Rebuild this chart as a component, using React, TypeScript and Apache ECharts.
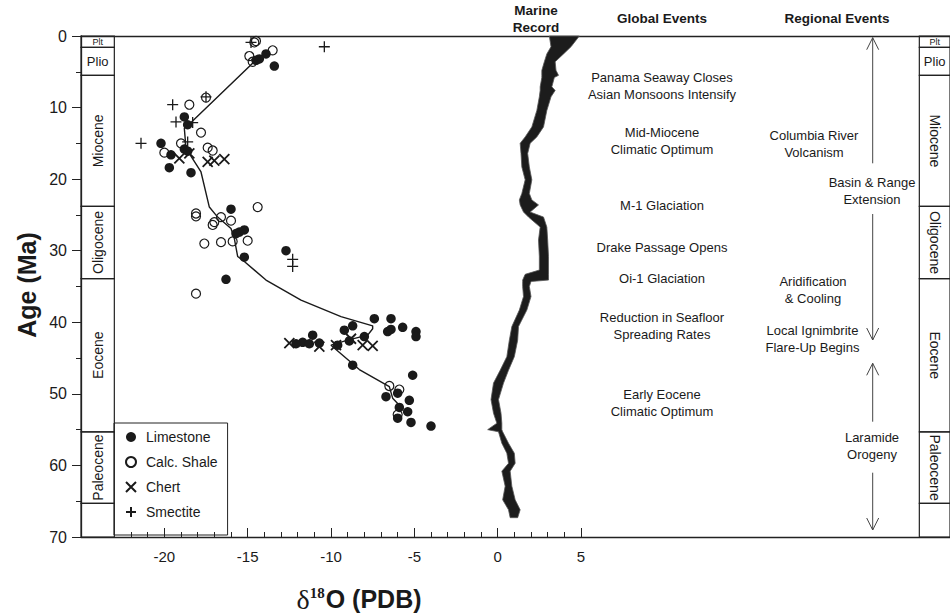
import { useEffect, useRef } from 'react';
import * as echarts from 'echarts';

const FONT = '"Liberation Sans", Arial, Helvetica, sans-serif';
const SERIF = '"Liberation Serif", "Times New Roman", serif';
const INK = '#1a1a1a';

// Axis setup
const X_MIN = -25;
const X_MAX = 27.14;
const COL_LEFT_EDGE = -23;
const COL_RIGHT_EDGE = 25.3;
const AGE_MIN = 0;
const AGE_MAX = 70;
const xMajorTicks = [-20, -15, -10, -5, 0, 5];
const xMinorTicks = [-22, -21, -19, -18, -17, -16, -14, -13, -12, -11, -9, -8, -7, -6, -4, -3, -2, -1, 1, 2, 3, 4];
const yMajorTicks = [0, 10, 20, 30, 40, 50, 60, 70];
const yMinorTicks = [5, 15, 25, 35, 45, 55, 65];

// Geological epochs (Ma)
const epochNames = ['Plt', 'Plio', 'Miocene', 'Oligocene', 'Eocene', 'Paleocene', ''];
const epochTop = [0, 1.6, 5.5, 23.8, 33.9, 55.3, 65.3];
const epochBase = [1.6, 5.5, 23.8, 33.9, 55.3, 65.3, 70];

// δ18O samples [δ18O, age Ma]
const limestone: number[][] = [
  [-13.4, 4.2], [-13.9, 2.5], [-14.3, 3.2], [-14.5, 3.4],
  [-18.8, 11.3], [-18.6, 12.4], [-20.2, 15.0], [-19.6, 16.6], [-19.7, 18.4], [-18.4, 19.1],
  [-18.8, 15.8], [-18.6, 16.1],
  [-16.0, 24.2],
  [-15.5, 27.4], [-15.2, 27.1], [-15.7, 27.6], [-15.2, 30.9], [-12.7, 30.0], [-16.3, 34.0],
  [-7.4, 39.5], [-6.4, 39.5], [-5.7, 40.7], [-4.9, 41.3], [-4.9, 42.0], [-6.6, 41.3], [-6.4, 41.0],
  [-9.2, 41.1], [-8.7, 40.5], [-8.0, 42.0], [-8.9, 42.6], [-11.1, 41.8], [-11.7, 42.8], [-11.3, 43.0],
  [-10.7, 42.9], [-12.1, 43.0], [-9.6, 43.2], [-8.7, 46.0], [-5.1, 47.4], [-6.7, 50.4], [-6.0, 49.9],
  [-5.3, 50.9], [-5.9, 51.9], [-5.4, 52.5], [-6.0, 53.4], [-5.2, 54.0], [-4.0, 54.5],
];
const calcShale: number[][] = [
  [-14.5, 0.7], [-14.6, 0.9], [-13.5, 2.0], [-14.9, 2.8], [-14.7, 3.6], [-17.5, 8.6], [-18.5, 9.6],
  [-17.8, 13.5], [-19.0, 15.0], [-20.0, 16.3], [-17.4, 15.6], [-17.1, 16.0], [-18.1, 24.8], [-18.1, 25.2],
  [-14.4, 23.9], [-16.6, 25.3], [-17.1, 26.4], [-17.0, 26.0], [-16.0, 25.8], [-17.6, 29.0], [-16.6, 28.8],
  [-15.9, 28.7], [-15.0, 28.6], [-18.1, 36.0], [-6.5, 48.9], [-5.9, 49.4], [-6.0, 52.9],
];
const chert: number[][] = [
  [-19.1, 17.1], [-18.5, 16.4], [-17.4, 17.6], [-17.0, 17.4], [-16.4, 17.2],
  [-12.5, 42.9], [-10.7, 43.4], [-9.7, 43.2], [-8.8, 42.3], [-8.1, 43.2], [-7.5, 43.3],
];
const smectite: number[][] = [
  [-14.8, 0.9], [-10.4, 1.5], [-17.5, 8.5], [-19.5, 9.6], [-19.3, 12.0], [-18.3, 12.1],
  [-21.4, 15.0], [-18.6, 14.8], [-12.3, 31.2], [-12.3, 32.2],
];
// Smoothed trend [δ18O, age]
const trendLine: number[][] = [
  [-14.3, 2.9], [-18.4, 12.1], [-18.8, 12.9], [-18.7, 15.7], [-17.8, 19.0], [-17.3, 23.9], [-16.8, 25.3],
  [-16.0, 26.9], [-15.8, 28.3], [-15.6, 30.8], [-15.2, 31.5], [-13.9, 34.1], [-11.8, 36.9], [-9.4, 39.2],
  [-7.5, 40.5], [-7.5, 40.9], [-7.8, 41.8], [-9.0, 42.5], [-10.0, 43.2], [-8.3, 46.6], [-6.5, 49.0],
  [-6.3, 50.6], [-5.9, 51.6],
];

// Marine benthic record band: age, left edge, right edge
const marineAge = [0, 1.5, 2.5, 3.6, 4.8, 5.5, 5.8, 7.1, 7.6, 8.5, 10.4, 12.7, 14.1, 15.0, 16.4, 18.3, 20.1, 22.0, 22.9, 23.6, 24.6, 25.3, 26.7, 28.5, 30.8, 32.7, 33.3, 34.1, 34.3, 35.0, 36.4, 38.3, 40.6, 42.5, 44.8, 46.7, 48.5, 50.8, 52.7, 54.1, 55.0, 55.3, 56.9, 58.3, 59.7, 60.8, 62.9, 64.8, 66.2, 67.3];
const marineLeft = [3.1, 3.2, 2.95, 2.8, 2.65, 2.65, 2.65, 2.55, 2.55, 2.5, 2.35, 2.05, 1.65, 1.35, 1.4, 1.45, 1.65, 1.45, 1.3, 1.35, 1.55, 1.85, 2.55, 2.45, 2.5, 2.5, 1.65, 1.5, 1.5, 1.5, 1.55, 1.3, 0.85, 0.7, 0.55, 0.15, -0.25, -0.4, -0.25, -0.05, -0.6, 0.05, 0.25, 0.55, 0.65, 0.25, 0.45, 0.3, 0.65, 0.75];
const marineRight = [4.9, 4.4, 3.95, 3.45, 3.5, 3.65, 3.4, 3.25, 3.45, 3.2, 2.95, 2.75, 2.35, 1.95, 1.8, 1.9, 2.05, 1.9, 2.05, 2.45, 1.95, 2.75, 2.95, 3.0, 3.05, 3.05, 3.05, 3.05, 2.0, 1.9, 2.0, 1.75, 1.25, 1.2, 1.0, 0.65, 0.35, 0.05, 0.2, 0.25, 0.25, 0.3, 0.65, 1.0, 1.05, 0.75, 0.85, 1.05, 1.35, 1.2];

const globalEvents = [
  'Panama Seaway Closes\nAsian Monsoons Intensify',
  'Mid-Miocene\nClimatic Optimum',
  'M-1 Glaciation',
  'Drake Passage Opens',
  'Oi-1 Glaciation',
  'Reduction in Seafloor\nSpreading Rates',
  'Early Eocene\nClimatic Optimum',
];
const regionalEvents = [
  'Columbia River\nVolcanism',
  'Basin & Range\nExtension',
  'Aridification\n& Cooling',
  'Local Ignimbrite\nFlare-Up Begins',
  'Laramide\nOrogeny',
];

function txt(text: string, x: number, y: number, size = 13, weight = 'normal', extra: any = {}) {
  return {
    type: 'text',
    x,
    y,
    silent: true,
    ...extra,
    style: {
      text,
      fontSize: size,
      fontFamily: FONT,
      fontWeight: weight,
      fill: INK,
      align: 'center',
      verticalAlign: 'middle',
      textAlign: 'center',
      textVerticalAlign: 'middle',
      lineHeight: 17,
    },
  };
}

function arrow(x: number, y1: number, y2: number, headTop: boolean) {
  const tipY = headTop ? y1 : y2;
  const d = headTop ? 12 : -12;
  return [
    { type: 'line', silent: true, shape: { x1: x, y1, x2: x, y2 }, style: { stroke: '#444', lineWidth: 1 } },
    {
      type: 'polyline',
      silent: true,
      shape: { points: [[x - 6, tipY + d], [x, tipY], [x + 6, tipY + d]] },
      style: { stroke: '#444', lineWidth: 1, fill: 'none' },
    },
  ];
}

export default function App() {
  const ref = useRef<HTMLDivElement>(null);
  useEffect(() => {
    if (!ref.current) return;
    const chart = echarts.init(ref.current, undefined, { renderer: 'svg' });

    const globalPos = [[662, 85.5], [662, 141.3], [662, 205.7], [662, 247], [662, 278], [662, 326], [662, 402.5]];
    const regionalPos = [[814, 144], [872, 190.5], [813, 290.3], [812.5, 339.3], [872, 445.5]];

    const graphics: any[] = [
      txt('Marine\nRecord', 536, 18.5, 13.5, 'bold'),
      txt('Global Events', 662, 18.5, 13.5, 'bold'),
      txt('Regional Events', 837, 18.5, 13.5, 'bold'),
      ...globalEvents.map((t, i) => txt(t, globalPos[i][0], globalPos[i][1])),
      ...regionalEvents.map((t, i) => txt(t, regionalPos[i][0], regionalPos[i][1])),
      ...arrow(872.7, 37.7, 163.3, true),
      ...arrow(872.7, 214, 340, false),
      ...arrow(872.7, 363.3, 421.7, true),
      ...arrow(872.7, 472.7, 530, false),
      txt('Age (Ma)', 27, 285, 25, 'bold', { rotation: Math.PI / 2 }),
      {
        type: 'text',
        x: 359,
        y: 599,
        silent: true,
        style: {
          text: '{d|δ}{s|18}{o|O (PDB)}',
          align: 'center',
          verticalAlign: 'middle',
          textAlign: 'center',
          textVerticalAlign: 'middle',
          fill: INK,
          rich: {
            d: { fontFamily: SERIF, fontSize: 28, fill: INK },
            s: { fontFamily: SERIF, fontWeight: 'bold', fontSize: 15, fill: INK, padding: [0, 1, 12, 0] },
            o: { fontFamily: FONT, fontWeight: 'bold', fontSize: 25, fill: INK },
          },
        },
      },
    ];

    const baseX = { type: 'value', min: X_MIN, max: X_MAX, splitLine: { show: false } };
    const baseY = { type: 'value', inverse: true, min: AGE_MIN, max: AGE_MAX, position: 'left', splitLine: { show: false } };

    chart.setOption({
      animation: false,
      backgroundColor: '#fff',
      grid: { left: 81, right: 0, top: 36, bottom: 79, outerBoundsMode: 'none' },
      xAxis: [
        {
          ...baseX,
          position: 'bottom',
          axisLine: { show: true, onZero: false, lineStyle: { color: '#222', width: 1.3 } },
          axisTick: { show: true, inside: true, length: 9, customValues: xMajorTicks, lineStyle: { color: '#222', width: 1 } },
          axisLabel: { show: true, customValues: xMajorTicks, fontSize: 15, fontFamily: FONT, color: INK, margin: 12 },
        },
        {
          ...baseX,
          position: 'bottom',
          axisLine: { show: false, onZero: false },
          axisTick: { show: true, inside: true, length: 5, customValues: xMinorTicks, lineStyle: { color: '#222', width: 1 } },
          axisLabel: { show: false },
        },
        {
          ...baseX,
          position: 'top',
          axisLine: { show: true, onZero: false, lineStyle: { color: '#222', width: 1.3 } },
          axisTick: { show: false },
          axisLabel: { show: false },
        },
      ],
      yAxis: [
        {
          ...baseY,
          axisLine: { show: true, onZero: false, lineStyle: { color: '#222', width: 1.3 } },
          axisTick: { show: true, inside: false, length: 9, customValues: yMajorTicks, lineStyle: { color: '#222', width: 1 } },
          axisLabel: { customValues: yMajorTicks, fontSize: 16, fontFamily: FONT, color: INK, margin: 14 },
        },
        {
          ...baseY,
          axisLine: { show: false, onZero: false },
          axisTick: { show: true, inside: false, length: 5, customValues: yMinorTicks, lineStyle: { color: '#222', width: 1 } },
          axisLabel: { show: false },
        },
      ],
      legend: {
        orient: 'vertical',
        left: 114,
        top: 423,
        itemWidth: 20,
        itemHeight: 10,
        itemGap: 9,
        padding: [6, 10, 15, 11],
        backgroundColor: 'transparent',
        borderColor: '#222',
        borderWidth: 1,
        selectedMode: false,
        textStyle: { fontSize: 14, fontFamily: FONT, color: INK, lineHeight: 16 },
        data: ['Limestone', 'Calc. Shale', 'Chert', 'Smectite'],
      },
      graphic: { elements: graphics },
      series: [
        {
          type: 'custom',
          name: 'Epochs',
          silent: true,
          clip: false,
          data: epochNames.map((_, i) => [epochTop[i], epochBase[i], i]),
          renderItem: (_params: any, api: any) => {
            const top = api.value(0);
            const base = api.value(1);
            const idx = api.value(2);
            const name = epochNames[idx];
            const children: any[] = [];
            const sides: [number, number, number][] = [
              [X_MIN, COL_LEFT_EDGE, Math.PI / 2],
              [COL_RIGHT_EDGE, X_MAX, -Math.PI / 2],
            ];
            sides.forEach(([x0, x1, rot]) => {
              const p0 = api.coord([x0, top]);
              const p1 = api.coord([x1, base]);
              children.push({
                type: 'rect',
                shape: { x: p0[0], y: p0[1], width: p1[0] - p0[0], height: p1[1] - p0[1] },
                style: { fill: 'none', stroke: '#222', lineWidth: 1.2 },
              });
              if (name) {
                const horizontal = name === 'Plt' || name === 'Plio';
                children.push({
                  type: 'text',
                  x: (p0[0] + p1[0]) / 2,
                  y: (p0[1] + p1[1]) / 2 + (name === 'Plt' ? 0.5 : 0),
                  rotation: horizontal ? 0 : rot,
                  style: {
                    text: name,
                    fontSize: name === 'Plt' ? 9 : name === 'Plio' ? 13 : 14,
                    fontFamily: FONT,
                    fill: INK,
                    align: 'center',
                    verticalAlign: 'middle',
                  },
                });
              }
            });
            return { type: 'group', children };
          },
        },
        {
          type: 'custom',
          name: 'Marine Record',
          silent: true,
          clip: false,
          data: [[marineLeft[0], marineAge[0]]],
          renderItem: (_params: any, api: any) => {
            const pts: number[][] = [];
            for (let i = 0; i < marineAge.length; i++) pts.push(api.coord([marineLeft[i], marineAge[i]]));
            for (let i = marineAge.length - 1; i >= 0; i--) pts.push(api.coord([marineRight[i], marineAge[i]]));
            return {
              type: 'polygon',
              shape: { points: pts },
              style: { fill: '#1c1c1c', stroke: '#555', lineWidth: 0.8 },
            };
          },
        },
        {
          type: 'line',
          name: 'Trend',
          data: trendLine,
          symbol: 'none',
          silent: true,
          lineStyle: { color: INK, width: 1.4 },
        },
        {
          type: 'scatter',
          name: 'Limestone',
          data: limestone,
          symbol: 'circle',
          symbolSize: 9.5,
          itemStyle: { color: INK, opacity: 1 },
        },
        {
          type: 'scatter',
          name: 'Calc. Shale',
          data: calcShale,
          symbol: 'circle',
          symbolSize: 9,
          itemStyle: { color: 'rgba(255,255,255,0)', borderColor: INK, borderWidth: 1.2, opacity: 1 },
        },
        {
          type: 'scatter',
          name: 'Chert',
          data: chert,
          symbol: 'path://M0,0L10,10M10,0L0,10',
          symbolSize: 10,
          itemStyle: { color: 'rgba(255,255,255,0)', borderColor: INK, borderWidth: 1.8, opacity: 1 },
        },
        {
          type: 'scatter',
          name: 'Smectite',
          data: smectite,
          symbol: 'path://M5,0L5,10M0,5L10,5',
          symbolSize: 11,
          itemStyle: { color: 'rgba(255,255,255,0)', borderColor: INK, borderWidth: 1.3, opacity: 1 },
        },
      ],
    });
    return () => chart.dispose();
  }, []);

  return (
    <div
      ref={ref}
      style={{ position: 'absolute', left: 0, top: 0, width: 950, height: 616, background: '#fff' }}
    />
  );
}
